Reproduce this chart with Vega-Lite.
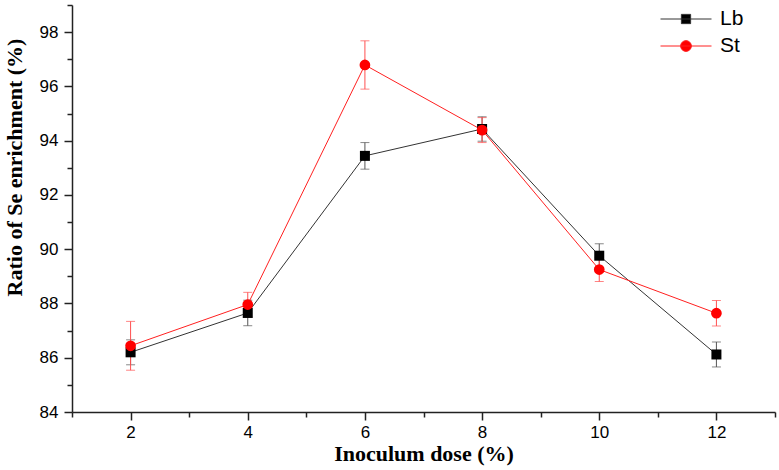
{
  "$schema": "https://vega.github.io/schema/vega-lite/v6.json",
  "autosize": {"type": "none"},
  "width": 703,
  "height": 407,
  "padding": {"left": 72, "top": 5, "right": 4, "bottom": 58},
  "background": "white",
  "config": {
    "view": {"stroke": null},
    "axis": {
      "grid": false,
      "domainColor": "#222",
      "domainWidth": 1.5,
      "tickColor": "#222",
      "tickWidth": 1.5,
      "labelFont": "Liberation Sans",
      "labelFontSize": 17,
      "labelColor": "#000",
      "titleFont": "Liberation Serif",
      "titleFontWeight": "bold",
      "titleFontSize": 22,
      "titleColor": "#000"
    }
  },
  "data": {
    "values": [
      {"series": "Lb", "dose": 2, "v": 86.2, "e": 0.46},
      {"series": "Lb", "dose": 4, "v": 87.65, "e": 0.47},
      {"series": "Lb", "dose": 6, "v": 93.44, "e": 0.49},
      {"series": "Lb", "dose": 8, "v": 94.43, "e": 0.45},
      {"series": "Lb", "dose": 10, "v": 89.76, "e": 0.44},
      {"series": "Lb", "dose": 12, "v": 86.12, "e": 0.46},
      {"series": "St", "dose": 2, "v": 86.44, "e": 0.9},
      {"series": "St", "dose": 4, "v": 87.96, "e": 0.45},
      {"series": "St", "dose": 6, "v": 96.79, "e": 0.89},
      {"series": "St", "dose": 8, "v": 94.39, "e": 0.46},
      {"series": "St", "dose": 10, "v": 89.25, "e": 0.44},
      {"series": "St", "dose": 12, "v": 87.64, "e": 0.47}
    ]
  },
  "encoding": {
    "x": {
      "field": "dose", "type": "quantitative",
      "scale": {"domain": [1, 13], "nice": false, "zero": false},
      "axis": {
        "title": "Inoculum dose (%)",
        "values": [1, 2, 3, 4, 5, 6, 7, 8, 9, 10, 11, 12, 13],
        "labelExpr": "datum.value % 2 == 0 && datum.value <= 12 ? datum.label : ''",
        "tickSize": {"condition": {"test": "datum.value % 2 == 0", "value": 8}, "value": 5},
        "labelPadding": 4,
        "titlePadding": 3,
        "labelFlush": false
      }
    },
    "y": {
      "field": "v", "type": "quantitative",
      "scale": {"domain": [84, 99], "nice": false, "zero": false},
      "axis": {
        "title": "Ratio of Se enrichment (%)",
        "values": [84, 85, 86, 87, 88, 89, 90, 91, 92, 93, 94, 95, 96, 97, 98, 99],
        "labelExpr": "datum.value % 2 == 0 ? datum.label : ''",
        "tickSize": {"condition": {"test": "datum.value % 2 == 0", "value": 8}, "value": 5},
        "labelPadding": 6,
        "titlePadding": 13,
        "titleY": 162,
        "labelFlush": false
      }
    }
  },
  "layer": [
    {
      "transform": [{"filter": "datum.series === 'Lb'"}],
      "mark": {"type": "errorbar", "color": "#555", "ticks": {"size": 9, "thickness": 1}, "thickness": 1},
      "encoding": {
        "y": {"field": "v", "type": "quantitative"},
        "yError": {"field": "e"}
      }
    },
    {
      "transform": [{"filter": "datum.series === 'St'"}],
      "mark": {"type": "errorbar", "color": "#ff5050", "ticks": {"size": 9, "thickness": 1}, "thickness": 1},
      "encoding": {
        "y": {"field": "v", "type": "quantitative"},
        "yError": {"field": "e"}
      }
    },
    {
      "mark": {"type": "line", "strokeWidth": 1},
      "encoding": {
        "color": {
          "field": "series", "type": "nominal",
          "scale": {"domain": ["Lb", "St"], "range": ["#333333", "#ff2020"]},
          "legend": {
            "orient": "none",
            "legendX": 601,
            "legendY": 1,
            "title": null,
            "padding": 0,
            "labelFont": "Liberation Sans",
            "labelFontSize": 21,
            "labelColor": "#000",
            "labelOffset": 21,
            "rowPadding": 4,
            "symbolSize": 625,
            "symbolType": "M-2,0H2",
            "encode": {
              "symbols": {
                "update": {
                  "shape": {"signal": "datum.value === 'Lb' ? 'M-2.04,0H2.04M-0.37,-0.37H0.37V0.37H-0.37Z' : 'M-2.04,0H2.04M0.43,0A0.43,0.43 0 1,1 -0.43,0A0.43,0.43 0 1,1 0.43,0Z'"},
                  "stroke": {"signal": "datum.value === 'Lb' ? '#888888' : '#ff3333'"},
                  "fill": {"signal": "datum.value === 'Lb' ? '#000000' : '#ff0000'"},
                  "fillOpacity": {"value": 1},
                  "strokeWidth": {"value": 1},
                  "opacity": {"value": 1}
                }
              }
            }
          }
        }
      }
    },
    {
      "transform": [{"filter": "datum.series === 'Lb'"}],
      "mark": {"type": "point", "shape": "square", "filled": true, "opacity": 1, "size": 100, "color": "#000"}
    },
    {
      "transform": [{"filter": "datum.series === 'St'"}],
      "mark": {"type": "point", "shape": "circle", "filled": true, "opacity": 1, "size": 115, "color": "#ff0000"}
    }
  ]
}
